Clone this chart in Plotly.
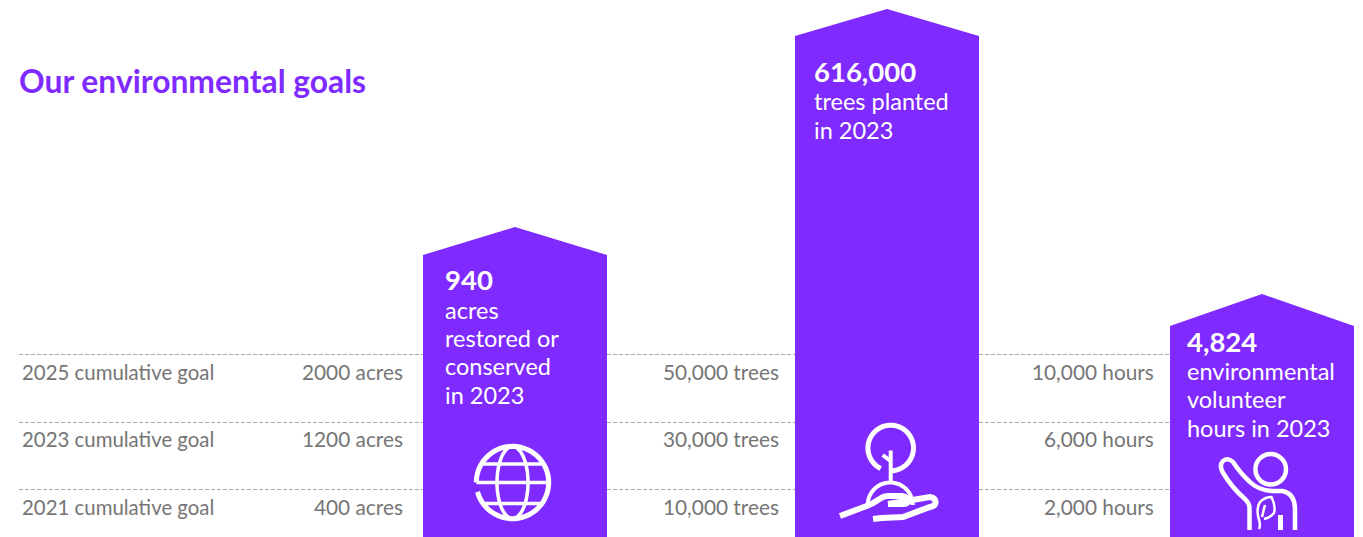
import math
import plotly.graph_objects as go

# Goal rows, top to bottom
goal_years = ["2025 cumulative goal", "2023 cumulative goal", "2021 cumulative goal"]
acre_goals = ["2000 acres", "1200 acres", "400 acres"]
tree_goals = ["50,000 trees", "30,000 trees", "10,000 trees"]
hour_goals = ["10,000 hours", "6,000 hours", "2,000 hours"]

# Achieved figures and their captions
headline_values = ["940", "616,000", "4,824"]
captions = [
    ["acres", "restored or", "conserved", "in 2023"],
    ["trees planted", "in 2023"],
    ["environmental", "volunteer", "hours in 2023"],
]

# Drawn heights of the pictogram columns (they are not to scale with the figures)
shoulder_heights = [282, 501, 211]
peak_heights = [310, 528, 243]

PURPLE = "#7f2bff"
GREY = "#757575"
RULE = "#ababab"
FONT = "Lato"
W, H = 1363, 537

col_left = [423, 795, 1170]
col_width = [184, 184, 184]
rule_heights = [182.5, 114.5, 47.5]
row_centres = [371.5, 438.5, 506.5]
goal_right = [403.5, 779.5, 1154.5]
text_left = [444, 813, 1186]
headline_y = [279, 71, 341]
caption_y = [[310, 338, 366, 395], [101, 130], [371, 399, 428]]

fig = go.Figure()

# Dashed goal rules run behind the columns
for h in rule_heights:
    fig.add_trace(go.Scatter(
        x=[19, 1170], y=[H - h, H - h], mode="lines", hoverinfo="skip",
        line=dict(color=RULE, width=1, dash="4px,2px"), showlegend=False))

# Columns with a pointed top
for left, width, sh, pk, name in zip(col_left, col_width, shoulder_heights, peak_heights, headline_values):
    mid = left + width / 2
    fig.add_trace(go.Scatter(
        x=[left, left, mid, left + width, left + width, left],
        y=[H, H - sh, H - pk, H - sh, H, H],
        mode="lines", fill="toself", fillcolor=PURPLE, name=name,
        line=dict(color=PURPLE, width=0), showlegend=False))


def label(x, y, text, size=20, color=GREY, anchor="left", bold=False):
    fig.add_annotation(
        x=x, y=y, xref="x", yref="y", xanchor=anchor, yanchor="middle", showarrow=False,
        text=f"<b>{text}</b>" if bold else text, borderpad=0,
        font=dict(family=FONT, size=size, color=color))


label(18, 81, "Our environmental goals", size=31.8, color=PURPLE, bold=True)
for year, cy in zip(goal_years, row_centres):
    label(21, cy, year, size=20.4)
for col, goals in enumerate([acre_goals, tree_goals, hour_goals]):
    for goal, cy in zip(goals, row_centres):
        label(goal_right[col], cy, goal, size=20.8, anchor="right")
for col, value in enumerate(headline_values):
    label(text_left[col], headline_y[col], value, size=27.5, color="white", bold=True)
    for line, cy in zip(captions[col], caption_y[col]):
        label(text_left[col], cy, line, size=23.5, color="white")


def circle_path(cx, cy, r):
    k = 0.5523 * r
    return (f"M{cx + r},{cy} C{cx + r},{cy + k} {cx + k},{cy + r} {cx},{cy + r} "
            f"C{cx - k},{cy + r} {cx - r},{cy + k} {cx - r},{cy} "
            f"C{cx - r},{cy - k} {cx - k},{cy - r} {cx},{cy - r} "
            f"C{cx + k},{cy - r} {cx + r},{cy - k} {cx + r},{cy}")


def arc_path(cx, cy, r, a0, a1, rx=None):
    # Open arc sampled as short segments; angles in degrees, clockwise on screen
    rx = rx or r
    n = max(12, int(abs(a1 - a0) / 6))
    pts = []
    for i in range(n + 1):
        a = math.radians(a0 + (a1 - a0) * i / n)
        pts.append(f"{cx + rx * math.cos(a):.2f},{cy + r * math.sin(a):.2f}")
    return "M" + " L".join(pts)


def stroke(path, width=3.5):
    fig.add_shape(type="path", path=path, xref="x", yref="y", layer="above",
                  line=dict(color="white", width=width), fillcolor="rgba(0,0,0,0)")


# Globe icon
gx, gy = 512.5, 482.5
stroke(arc_path(gx, gy, 36.2, 180, 525), 5)
stroke(f"M{gx - 36},{gy} L{gx + 36},{gy}", 3.5)
stroke(f"M{gx - 29},{gy - 18.5} L{gx + 29},{gy - 18.5}", 3.5)
stroke(f"M{gx - 28},{gy + 21} L{gx + 28},{gy + 21}", 3.5)
stroke(arc_path(gx, gy, 36, 0, 360, rx=15.5), 3.5)

# Tree-in-hand icon
stroke(arc_path(890.7, 448, 22.8, 116, 450), 5)
stroke("M890.7,450.5 L890.7,482", 4)
stroke("M882.7,455 L890.5,461", 4)
stroke(arc_path(890.2, 505, 22.5, 180, 360), 4)
stroke("M840,516 L868,505.5 Q872,504 878,500 L882,497.5 Q885,496 888,496 L902,496 "
       "Q908,497 908,501 Q908,504 902,504 L888,504", 6)
stroke("M888,504 L930,497 Q936,498 935.5,503 Q935,506 930,507 L903,517 L882,518 L873,519", 6)

# Volunteer icon
stroke(circle_path(1270.7, 469.3, 15.3), 4.5)
stroke("M1249.5,530 L1249.5,507 Q1249,503 1245,499 Q1232,488 1222.5,472 "
       "Q1219,465 1223,461 Q1228,457 1233,462 Q1241,474 1250,482 Q1258,490 1272,491 "
       "L1282,491 Q1295,493 1295,510 L1295,530", 4.5)
stroke("M1280.5,515 L1280.5,530", 5)
stroke("M1259,529 Q1261,525 1258.5,518 Q1256,508 1260,502 Q1265,497 1271.5,497 "
       "Q1276,506 1274,513 Q1270,518 1264,519 M1265,505 L1262,517", 2.5)

fig.update_xaxes(range=[0, W], visible=False, fixedrange=True)
fig.update_yaxes(range=[H, 0], visible=False, fixedrange=True)
fig.update_layout(width=W, height=H, margin=dict(l=0, r=0, t=0, b=0),
                  paper_bgcolor="white", plot_bgcolor="white", showlegend=False)
fig.write_html("out.html", config=dict(displayModeBar=False))
